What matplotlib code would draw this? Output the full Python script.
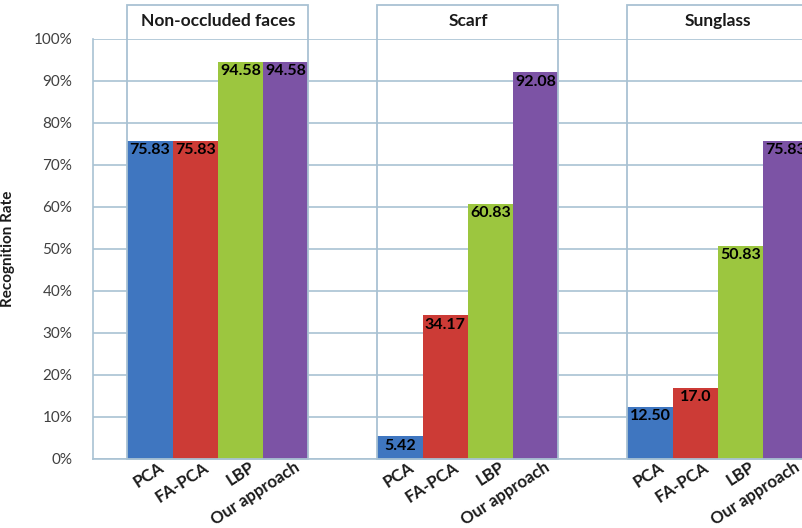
import numpy as np
import matplotlib.pyplot as plt
import matplotlib.transforms as mtransforms
from matplotlib.patches import Rectangle
from matplotlib.ticker import FuncFormatter

plt.rcParams['font.family'] = ['Lato', 'DejaVu Sans']

# data
groups = ['Non-occluded faces', 'Scarf', 'Sunglass']
methods = ['PCA', 'FA-PCA', 'LBP', 'Our approach']
non_occluded = [75.83, 75.83, 94.58, 94.58]
scarf = [5.42, 34.17, 60.83, 92.08]
sunglass = [12.50, 17.0, 50.83, 75.83]
non_occluded_labels = ['75.83', '75.83', '94.58', '94.58']
scarf_labels = ['5.42', '34.17', '60.83', '92.08']
sunglass_labels = ['12.50', '17.0', '50.83', '75.83']

colors = ['#3f76c0', '#cc3b36', '#9cc63f', '#7c53a5']
gridc = '#a9c2d3'
group_step = 5.525

fig = plt.figure(figsize=(8.03, 5.28), dpi=100)
ax = fig.add_axes([93/803, 1-459/528, 1-93/803, 420/528])

centers = []
for g, (name, vals, labs) in enumerate(zip(groups, [non_occluded, scarf, sunglass],
                                           [non_occluded_labels, scarf_labels, sunglass_labels])):
    start = g * group_step
    x = start + np.arange(len(methods)) + 0.5
    centers.extend(x)
    ax.bar(x, vals, width=1.0, color=colors, linewidth=0, zorder=3)
    for xi, v, lab in zip(x, vals, labs):
        ax.text(xi, v - 0.6, lab, ha='center', va='top', fontsize=11.5,
                fontweight='bold', color='black', zorder=4)
    # panel box with title
    ax.add_patch(Rectangle((start, 0), 4, 108.1, fill=False, edgecolor=gridc,
                           lw=1.3, clip_on=False, zorder=5))
    ax.text(start + 2, 104.2, name, ha='center', va='center', fontsize=12.5,
            fontweight='bold', color='#1a1a1a')

ax.set_ylim(0, 100)
ax.set_xlim(-0.76, 14.93)
ax.set_yticks(np.arange(0, 101, 10))
ax.yaxis.set_major_formatter(FuncFormatter(lambda v, p: '%d%%' % v))
ax.set_xticks(centers)
ax.set_xticklabels(methods * 3, rotation=33, ha='right', rotation_mode='anchor',
                   fontsize=12, fontweight='bold', color='#1a1a1a')
ax.tick_params(axis='y', length=0, pad=15, labelsize=11, labelcolor='#404040')
ax.tick_params(axis='x', length=0, pad=0)
# nudge the slanted labels a bit to the right, like the original
shift = mtransforms.ScaledTranslation(8/100, 0, fig.dpi_scale_trans)
for lbl in ax.get_xticklabels():
    lbl.set_transform(lbl.get_transform() + shift)

ax.grid(axis='y', color=gridc, lw=1.2, zorder=0)
ax.set_axisbelow(True)
for s in ['top', 'right']:
    ax.spines[s].set_visible(False)
for s in ['left', 'bottom']:
    ax.spines[s].set_color(gridc)
    ax.spines[s].set_linewidth(1.2)

ax.set_ylabel('Recognition Rate', fontsize=11, fontweight='bold', color='#1a1a1a')
ax.yaxis.set_label_coords(-78/710, 0.5)

plt.savefig('out.png', dpi=100)
